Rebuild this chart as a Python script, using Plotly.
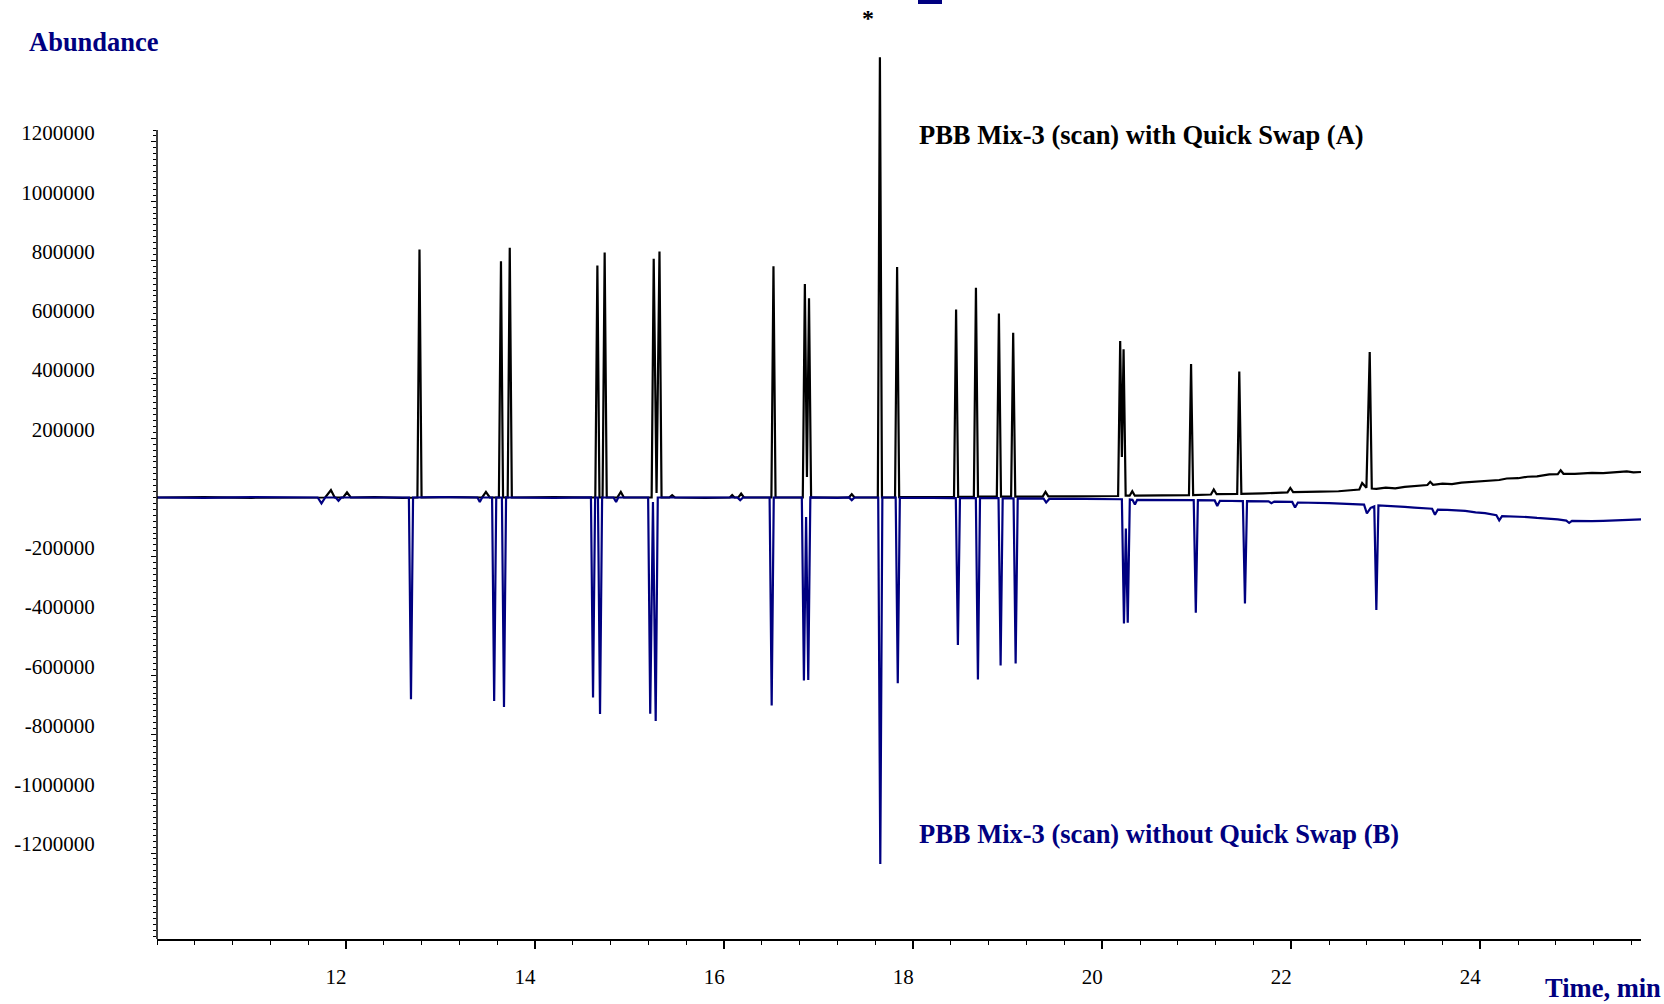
import numpy as np
import plotly.graph_objects as go

# ---- Data (time in min, abundance) ----
# Trace A: PBB Mix-3 (scan) with Quick Swap (black, upward)
points_A = [
    (10.0, 0), (10.5, 1000), (11.0, -1000), (11.5, 1000),
    (11.78, 0), (11.84, 25000), (11.88, 0), (11.97, 0), (12.01, 17000), (12.05, 0),
    (12.3, 1000), (12.6, -1000),
    (12.755, 0), (12.777, 837000), (12.799, 0),
    (13.1, 1000), (13.44, 0), (13.48, 19000), (13.52, 0),
    (13.617, 0), (13.639, 797000), (13.661, 0),
    (13.71, 0), (13.732, 843000), (13.754, 0),
    (14.2, 1000),
    (14.637, 0), (14.659, 783000), (14.681, 0),
    (14.714, 0), (14.736, 827000), (14.758, 0),
    (14.87, 0), (14.907, 19000), (14.94, 0),
    (15.233, 0), (15.255, 806000), (15.285, 15000), (15.316, 830000), (15.338, 0),
    (15.42, 0), (15.45, 8000), (15.48, 0), (15.8, -1000),
    (16.06, 0), (16.085, 8000), (16.11, 0), (16.15, 0), (16.18, 13000), (16.21, 0),
    (16.5, 0), (16.522, 780000), (16.544, 0),
    (16.832, 0), (16.854, 720000), (16.876, 69000), (16.898, 672000), (16.92, 0),
    (17.2, 1000), (17.32, 0), (17.35, 11000), (17.38, 0),
    (17.626, 0), (17.648, 1486000), (17.67, 0),
    (17.808, 0), (17.83, 778000), (17.852, 1000),
    (18.1, 1000),
    (18.432, 2000), (18.454, 634000), (18.476, 2000),
    (18.642, 2000), (18.664, 708000), (18.686, 3000),
    (18.885, 3000), (18.907, 621000), (18.929, 3000),
    (19.036, 3000), (19.058, 556000), (19.08, 3000),
    (19.2, 3000), (19.37, 3000), (19.40, 19000), (19.43, 4000),
    (19.7, 4000), (20.0, 5000),
    (20.168, 5000), (20.19, 528000), (20.208, 137000), (20.226, 500000), (20.248, 6000),
    (20.29, 6000), (20.318, 21000), (20.345, 6000),
    (20.6, 7000),
    (20.918, 8000), (20.94, 450000), (20.962, 8000),
    (21.15, 10000), (21.18, 27000), (21.21, 11000),
    (21.428, 12000), (21.45, 425000), (21.472, 12000),
    (21.7, 14000), (21.96, 17000), (21.99, 32000), (22.02, 18000),
    (22.3, 20000), (22.5, 21000),
    (22.72, 27000), (22.75, 49000), (22.795, 33000),
    (22.83, 491000), (22.852, 30000),
    (22.9, 29000), (23.0, 33000), (23.1, 31000), (23.2, 36000), (23.3, 38000), (23.39, 41000),
    (23.44, 42000), (23.47, 53000), (23.5, 43000),
    (23.6, 47000), (23.7, 45000), (23.8, 50000), (23.9, 52000), (24.0, 54000),
    (24.1, 58000), (24.2, 59000), (24.28, 64000), (24.4, 65000), (24.5, 70000),
    (24.6, 71000), (24.73, 78000), (24.82, 79000), (24.85, 92000), (24.88, 80000),
    (25.0, 80000), (25.1, 82000), (25.18, 83000), (25.3, 82000), (25.4, 84000),
    (25.5, 85000), (25.55, 88000), (25.62, 85000), (25.7, 86000),
]

# Trace B: PBB Mix-3 (scan) without Quick Swap (navy, downward)
points_B = [
    (10.0, 0), (10.5, -1000), (11.0, 1000), (11.5, -1000),
    (11.70, 0), (11.74, -20000), (11.78, 0), (11.89, 0), (11.92, -11000), (11.95, 0),
    (12.3, -1000),
    (12.665, 0), (12.687, -681000), (12.709, 0),
    (13.0, 1000), (13.39, 0), (13.415, -15000), (13.44, 0),
    (13.545, 0), (13.567, -687000), (13.589, 0),
    (13.649, 0), (13.671, -707000), (13.693, 0),
    (14.2, -1000),
    (14.591, 0), (14.613, -675000), (14.635, 0),
    (14.665, 0), (14.687, -731000), (14.709, 0),
    (14.83, 0), (14.857, -15000), (14.88, 0),
    (15.196, 0), (15.218, -730000), (15.247, -15000), (15.276, -754000), (15.298, 0),
    (15.8, 1000),
    (16.14, 0), (16.17, -9000), (16.2, 0),
    (16.481, 0), (16.503, -702000), (16.525, 0),
    (16.822, 0), (16.844, -618000), (16.867, -66000), (16.89, -616000), (16.912, 0),
    (17.2, -1000), (17.32, 0), (17.35, -9000), (17.38, 0),
    (17.630, 0), (17.652, -1237000), (17.674, 0),
    (17.815, 0), (17.837, -627000), (17.859, -1000),
    (18.2, -1000),
    (18.451, -2000), (18.473, -498000), (18.495, -2000),
    (18.663, -2000), (18.685, -614000), (18.707, -2000),
    (18.903, -2000), (18.925, -567000), (18.947, -3000),
    (19.062, -3000), (19.084, -560000), (19.106, -3000),
    (19.3, -3000), (19.38, -4000), (19.407, -17000), (19.44, -5000),
    (19.8, -5000),
    (20.208, -6000), (20.23, -425000), (20.25, -105000), (20.27, -423000), (20.292, -7000),
    (20.32, -8000), (20.346, -24000), (20.37, -8000),
    (20.7, -8000),
    (20.968, -9000), (20.99, -389000), (21.012, -9000),
    (21.19, -10000), (21.217, -29000), (21.245, -11000),
    (21.488, -12000), (21.51, -358000), (21.532, -12000),
    (21.76, -13000), (21.79, -19000), (21.82, -14000),
    (22.01, -15000), (22.04, -34000), (22.07, -17000),
    (22.4, -19000), (22.6, -22000),
    (22.77, -24000), (22.80, -54000), (22.84, -35000),
    (22.878, -30000), (22.90, -380000), (22.922, -27000),
    (23.0, -29000), (23.1, -30000), (23.2, -32000), (23.3, -34000), (23.4, -36000),
    (23.49, -38000), (23.52, -58000), (23.55, -41000),
    (23.65, -42000), (23.75, -44000), (23.84, -45000), (23.95, -50000), (24.05, -53000),
    (24.17, -60000), (24.20, -77000), (24.23, -63000),
    (24.35, -64000), (24.5, -66000), (24.6, -69000), (24.73, -71000), (24.82, -74000),
    (24.91, -78000), (24.94, -86000), (24.97, -79000),
    (25.05, -80000), (25.18, -80000), (25.3, -79000), (25.4, -78000),
    (25.5, -77000), (25.6, -75000), (25.7, -74000),
]

time_A = [p[0] for p in points_A]
abund_A = [p[1] for p in points_A]
time_B = [p[0] for p in points_B]
abund_B = [p[1] for p in points_B]

x_tick_values = [12, 14, 16, 18, 20, 22, 24]
y_label_values = [1200000, 1000000, 800000, 600000, 400000, 200000,
                  -200000, -400000, -600000, -800000, -1000000, -1200000]

label_A = "PBB Mix-3 (scan) with Quick Swap (A)"
label_B = "PBB Mix-3 (scan) without Quick Swap (B)"

# ---- Layout geometry ----
W, H = 1664, 1004
ML, MR, MT, MB = 157, 23, 53, 65
PW, PH = W - ML - MR, H - MT - MB
X_RANGE = [10, 25.7]
Y_RANGE = [-1490000, 1500000]
Y_AXIS_TOP = 1240000

NAVY = "#000080"
FONT = "Liberation Serif"
TITLE_SIZE = 26.5


def px_x(X):
    return (X - ML) / PW


def px_y(Y):
    return (H - MB - Y) / PH


fig = go.Figure()
fig.add_trace(go.Scatter(x=time_A, y=abund_A, mode="lines",
                         line=dict(color="#000000", width=2.2), name=label_A))
fig.add_trace(go.Scatter(x=time_B, y=abund_B, mode="lines",
                         line=dict(color=NAVY, width=2.2), name=label_B))

y_major = list(range(-1300000, 1200001, 100000))
y_text = [f"{v}" if v in y_label_values else "" for v in y_major]
y_minor = list(range(-1480000, Y_AXIS_TOP + 1, 20000))
x_minor = [round(v, 1) for v in np.arange(10.0, 25.61, 0.4)]

fig.update_layout(
    width=W, height=H,
    margin=dict(l=ML, r=MR, t=MT, b=MB, pad=0, autoexpand=False),
    plot_bgcolor="white", paper_bgcolor="white",
    showlegend=False,
    font=dict(family=FONT, color="#000000"),
    xaxis=dict(
        range=X_RANGE, showgrid=False, zeroline=False, automargin=False,
        showline=True, linecolor="#000000", linewidth=1.5,
        ticks="outside", tickmode="array", tickvals=x_tick_values,
        ticklen=8, tickwidth=1.5, tickcolor="#000000",
        minor=dict(tickmode="array", tickvals=x_minor, ticks="outside",
                   ticklen=4, tickwidth=1.3, tickcolor="#000000", showgrid=False),
        tickfont=dict(family=FONT, size=21, color="#000000"),
        ticklabelshift=-10, ticklabelstandoff=10,
    ),
    yaxis=dict(
        range=Y_RANGE, showgrid=False, zeroline=False, showline=False, automargin=False,
        ticks="outside", tickmode="array", tickvals=y_major, ticktext=y_text,
        ticklen=5, tickwidth=1.3, tickcolor="#000000",
        minor=dict(tickmode="array", tickvals=y_minor, ticks="outside",
                   ticklen=3, tickwidth=1.1, tickcolor="#000000", showgrid=False),
        tickfont=dict(family=FONT, size=21, color="#000000"),
        ticklabelshift=-9, ticklabelstandoff=52,
    ),
)

# y axis line stops at the top of the labelled scale
fig.add_shape(type="line", xref="paper", yref="y", x0=0, x1=0,
              y0=Y_RANGE[0], y1=Y_AXIS_TOP,
              line=dict(color="#000000", width=1.5))

# cropped title fragment at the very top
fig.add_shape(type="rect", xref="paper", yref="paper",
              x0=px_x(918), x1=px_x(942), y0=px_y(4), y1=px_y(-2),
              line=dict(width=0), fillcolor=NAVY)

ann = [
    dict(text="<b>Abundance</b>", x=px_x(27), y=px_y(42), xanchor="left", yanchor="middle",
         font=dict(family=FONT, size=TITLE_SIZE, color=NAVY)),
    dict(text="<b>Time, min</b>", x=px_x(1543), y=px_y(988), xanchor="left", yanchor="middle",
         font=dict(family=FONT, size=TITLE_SIZE, color=NAVY)),
    dict(text=f"<b>{label_A}</b>", x=px_x(917), y=px_y(135), xanchor="left", yanchor="middle",
         font=dict(family=FONT, size=TITLE_SIZE, color="#000000")),
    dict(text=f"<b>{label_B}</b>", x=px_x(917), y=px_y(834), xanchor="left", yanchor="middle",
         font=dict(family=FONT, size=TITLE_SIZE, color=NAVY)),
    dict(text="<b>*</b>", x=px_x(868), y=px_y(18), xanchor="center", yanchor="middle",
         font=dict(family=FONT, size=24, color="#000000")),
]
for a in ann:
    fig.add_annotation(xref="paper", yref="paper", showarrow=False, **a)

fig.write_html(
    "out.html",
    config={"displayModeBar": False},
    post_script="document.body.style.margin='0';document.body.style.overflow='hidden';",
)
